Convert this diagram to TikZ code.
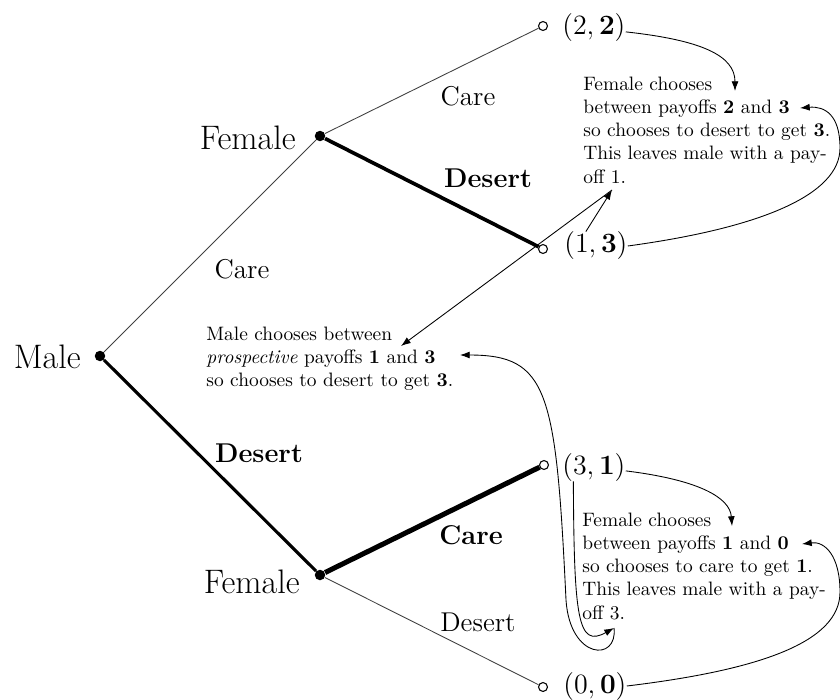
\documentclass[tikz,border=0pt]{standalone}
\usetikzlibrary{arrows.meta}
\begin{document}
\begin{tikzpicture}[x=0.515pt, y=-0.515pt,
  dec/.style={circle, fill=black, inner sep=0pt, minimum size=5.4pt},
  leaf/.style={circle, draw=black, fill=white, line width=0.55pt, inner sep=0pt, minimum size=4.6pt},
  player/.style={font=\fontsize{17.5}{21}\selectfont, inner sep=0pt, anchor=east},
  act/.style={font=\fontsize{14}{17}\selectfont, inner sep=0pt},
  pay/.style={font=\fontsize{14.3}{17}\selectfont, inner sep=0pt, anchor=west},
  note/.style={text width=140pt, align=left, inner sep=0pt, anchor=base west, font=\normalsize},
  weak/.style={line width=0.45pt, black!75},
  strong/.style={line width=#1, black},
  ptr/.style={line width=0.45pt, black, -{Latex[length=5pt,width=3.6pt]}},
]
\useasboundingbox (0,0) rectangle (840,699);

% decision nodes and terminal nodes
\node[dec] (male) at (100,356) {};
\node[dec] (ftop) at (320,136) {};
\node[dec] (fbot) at (320,575) {};
\node[leaf] (l22) at (543,26) {};
\node[leaf] (l13) at (543,249) {};
\node[leaf] (l31) at (544,465) {};
\node[leaf] (l00) at (543,687) {};

% branches of the game tree
\draw[weak] (male) -- (ftop);
\draw[strong=1.6pt] (male) -- (fbot);
\draw[weak] (ftop) -- (l22);
\draw[strong=1.9pt] (ftop) -- (l13);
\draw[strong=2.6pt] (fbot) -- (l31);
\draw[weak] (fbot) -- (l00);

% players
\node[player] (tmale) at (81,357) {Male};
\node[player] (tftop) at (296,138) {Female};
\node[player] (tfbot) at (300,582) {Female};

% actions
\node[act] (c1) at (468,96) {Care};
\node[act] (d1) at (488,178) {\bfseries Desert};
\node[act] (c0) at (242,269) {Care};
\node[act] (d0) at (259,453) {\bfseries Desert};
\node[act] (c2) at (471,535) {\bfseries Care};
\node[act] (d2) at (478,622) {Desert};

% payoffs (male, female)
\node[pay] (p22) at (562,28) {$(2,\mathbf{2})$};
\node[pay] (p13) at (564,246) {$(1,\mathbf{3})$};
\node[pay] (p31) at (562,467) {$(3,\mathbf{1})$};
\node[pay] (p00) at (563,686) {$(0,\mathbf{0})$};

% explanations
\node[note] (ntop) at (583,90) {Female chooses\\
  between payoffs \textbf{2} and \textbf{3}\\
  so chooses to desert to get \textbf{3}.\\
  This leaves male with a pay-\\
  off 1.};
\node[note] (nmale) at (206,340) {Male chooses between\\
  \textit{prospective} payoffs \textbf{1} and \textbf{3}\\
  so chooses to desert to get \textbf{3}.};
\node[note] (nbot) at (582,526) {Female chooses\\
  between payoffs \textbf{1} and \textbf{0}\\
  so chooses to care to get \textbf{1}.\\
  This leaves male with a pay-\\
  off 3.};

% points inside the explanations
\coordinate (one) at (612,190);
\coordinate (three) at (614,628);
\coordinate (m1) at (401,346);
\coordinate (m3) at (460,355);
\coordinate (t23) at (735,91);
\coordinate (e3) at (800,108);
\coordinate (t10) at (732,526);
\coordinate (e0) at (802,544);

% backward induction pointers
\draw[ptr] ([yshift=-2pt]p22.east) .. controls (700,40) and (735,55) .. (t23);
\draw[ptr] (p13.east) .. controls (760,228) and (840,195) .. (840,148)
  .. controls (840,115) and (825,106) .. (e3);
\draw[ptr] (p13.125) -- (one);
\draw[ptr] (one) -- (m1);
\draw[ptr] ([yshift=-2pt]p31.east) .. controls (700,480) and (730,498) .. (t10);
\draw[ptr] (p00.east) .. controls (760,670) and (840,642) .. (840,592)
  .. controls (840,556) and (825,541) .. (e0);
\draw[ptr] (p31.215) .. controls (574,620) and (578,648) .. (three);
\draw[ptr] (three) .. controls (618,662) and (570,660) .. (566,600)
  .. controls (556,390) and (548,355) .. (m3);
\end{tikzpicture}
\end{document}
